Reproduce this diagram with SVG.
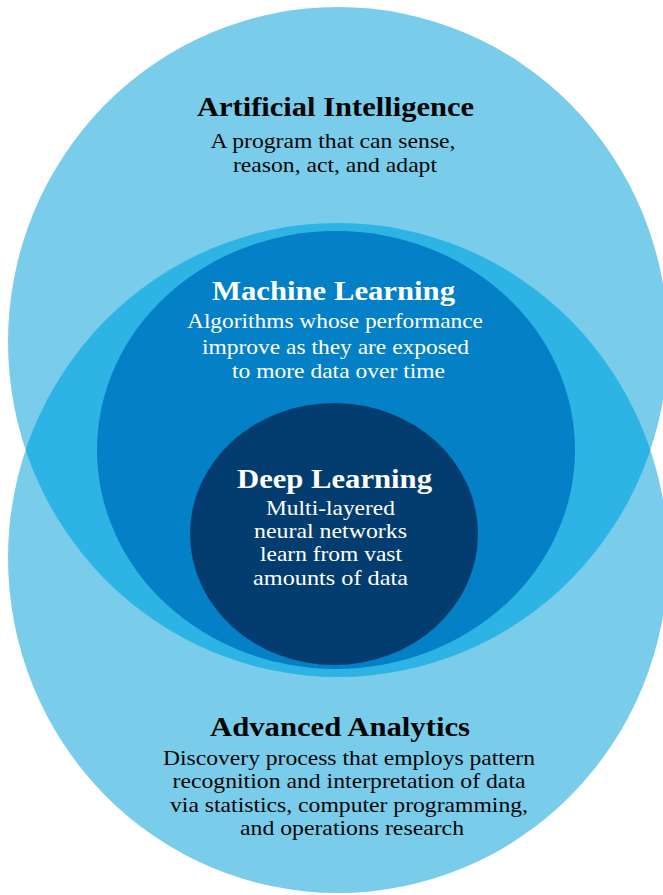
<svg xmlns="http://www.w3.org/2000/svg" width="663" height="895" viewBox="0 0 663 895">
  <defs>
    <clipPath id="clip-ai">
      <ellipse cx="338" cy="342" rx="330" ry="335"/>
    </clipPath>
    <style>
      text { font-family: 'Liberation Serif', 'Times New Roman', Times, serif; text-anchor: middle; }
      .title { font-weight: bold; font-size: 27px; }
      .body { font-weight: normal; font-size: 22px; }
      .dark { fill: #050505; }
      .light { fill: #ffffff; }
    </style>
  </defs>
  <rect width="663" height="895" fill="#ffffff"/>

  <!-- Artificial Intelligence -->
  <g id="artificial-intelligence">
    <ellipse cx="338" cy="342" rx="330" ry="335" fill="#79cdea"/>
  </g>

  <!-- Advanced Analytics -->
  <g id="advanced-analytics">
    <ellipse cx="338" cy="558" rx="330" ry="335" fill="#79cdea"/>
    <!-- overlap of the two fields -->
    <ellipse cx="338" cy="558" rx="330" ry="335" fill="#2db3e4" clip-path="url(#clip-ai)"/>
  </g>

  <!-- Machine Learning -->
  <g id="machine-learning">
    <ellipse cx="336" cy="450" rx="239" ry="219" fill="#0380c6"/>
  </g>

  <!-- Deep Learning -->
  <g id="deep-learning">
    <ellipse cx="334" cy="534" rx="144" ry="131" fill="#033d70"/>
  </g>

  <g id="connectors"/>

  <!-- Labels -->
  <g id="labels">
    <text class="title dark" x="335.5" y="116" textLength="277" lengthAdjust="spacingAndGlyphs">Artificial Intelligence</text>
    <text class="body dark" x="333" y="148" textLength="245" lengthAdjust="spacingAndGlyphs">A program that can sense,</text>
    <text class="body dark" x="335" y="172" textLength="204" lengthAdjust="spacingAndGlyphs">reason, act, and adapt</text>

    <text class="title light" x="333.5" y="300" textLength="243" lengthAdjust="spacingAndGlyphs">Machine Learning</text>
    <text class="body light" x="335" y="328" textLength="296" lengthAdjust="spacingAndGlyphs">Algorithms whose performance</text>
    <text class="body light" x="335.5" y="354" textLength="267" lengthAdjust="spacingAndGlyphs">improve as they are exposed</text>
    <text class="body light" x="338.5" y="378" textLength="213" lengthAdjust="spacingAndGlyphs">to more data over time</text>

    <text class="title light" x="334.5" y="488" textLength="195" lengthAdjust="spacingAndGlyphs">Deep Learning</text>
    <text class="body light" x="330.5" y="515" textLength="129" lengthAdjust="spacingAndGlyphs">Multi-layered</text>
    <text class="body light" x="330.5" y="538" textLength="153" lengthAdjust="spacingAndGlyphs">neural networks</text>
    <text class="body light" x="331" y="561" textLength="142" lengthAdjust="spacingAndGlyphs">learn from vast</text>
    <text class="body light" x="330.5" y="585" textLength="155" lengthAdjust="spacingAndGlyphs">amounts of data</text>

    <text class="title dark" x="340" y="736" textLength="260" lengthAdjust="spacingAndGlyphs">Advanced Analytics</text>
    <text class="body dark" x="349" y="765" textLength="372" lengthAdjust="spacingAndGlyphs">Discovery process that employs pattern</text>
    <text class="body dark" x="349" y="788" textLength="353" lengthAdjust="spacingAndGlyphs">recognition and interpretation of data</text>
    <text class="body dark" x="349" y="812" textLength="358" lengthAdjust="spacingAndGlyphs">via statistics, computer programming,</text>
    <text class="body dark" x="352" y="835" textLength="224" lengthAdjust="spacingAndGlyphs">and operations research</text>
  </g>
</svg>
